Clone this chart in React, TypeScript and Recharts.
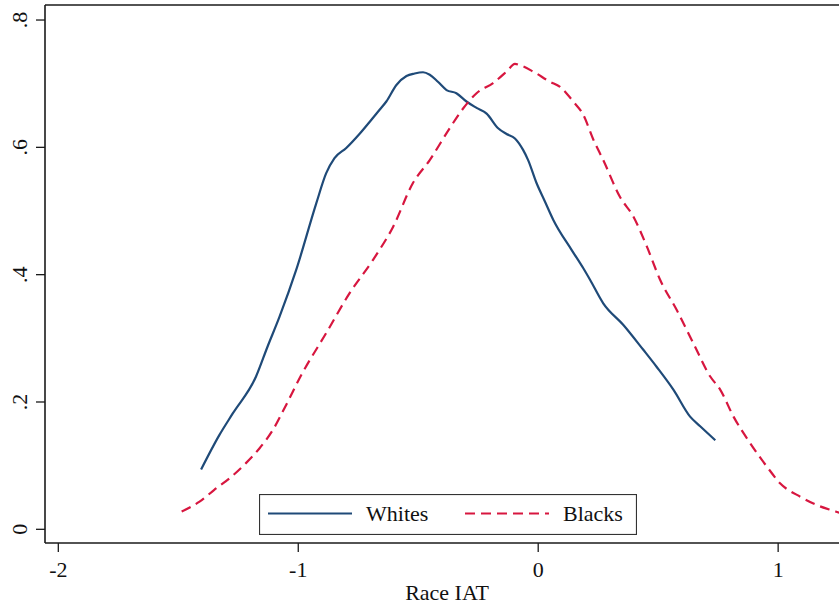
import { LineChart, Line, XAxis, YAxis, ReferenceLine } from 'recharts';

// density estimates
const whitesX = [
  -1.405, -1.329, -1.273, -1.176, -1.129, -1.078, -1.009, -0.925, -0.884, -0.849, -0.8, -0.745, -0.696,
  -0.661, -0.633, -0.591, -0.549, -0.515, -0.48, -0.452, -0.418, -0.382, -0.341, -0.299, -0.257, -0.215,
  -0.167, -0.132, -0.097, -0.063, -0.042, -0.007, 0.028, 0.063, 0.139, 0.188, 0.216, 0.271, 0.355, 0.438,
  0.494, 0.564, 0.633, 0.675, 0.738,
];
const whitesY = [
  0.094, 0.148, 0.182, 0.24, 0.286, 0.334, 0.407, 0.512, 0.559, 0.583, 0.599, 0.621, 0.643,
  0.659, 0.672, 0.698, 0.712, 0.716, 0.718, 0.714, 0.703, 0.69, 0.685, 0.672, 0.662, 0.653,
  0.63, 0.621, 0.614, 0.596, 0.58, 0.544, 0.515, 0.486, 0.439, 0.41, 0.392, 0.355, 0.321, 0.282,
  0.255, 0.219, 0.177, 0.162, 0.14,
];

const blacksX = [
  -1.486, -1.413, -1.35, -1.287, -1.218, -1.162, -1.106, -1.051, -0.988, -0.884, -0.786, -0.689, -0.605,
  -0.522, -0.452, -0.369, -0.313, -0.257, -0.188, -0.132, -0.097, -0.076, -0.021, 0.049, 0.091, 0.146,
  0.188, 0.23, 0.271, 0.341, 0.397, 0.453, 0.508, 0.578, 0.647, 0.717, 0.759, 0.814, 0.884, 0.954,
  1.009, 1.093, 1.162, 1.239, 1.3,
];
const blacksY = [
  0.028, 0.043, 0.062, 0.08, 0.104, 0.127, 0.156, 0.195, 0.242, 0.308, 0.371, 0.423, 0.475,
  0.544, 0.58, 0.63, 0.661, 0.685, 0.701, 0.719, 0.731, 0.729, 0.719, 0.703, 0.695, 0.672,
  0.651, 0.612, 0.58, 0.522, 0.491, 0.444, 0.392, 0.344, 0.292, 0.24, 0.219, 0.177, 0.135, 0.098,
  0.072, 0.051, 0.038, 0.028, 0.02,
];

const xTicks = [-2, -1, 0, 1];
const yTicks = [0, 0.2, 0.4, 0.6, 0.8];
const yTickLabels = ['0', '.2', '.4', '.6', '.8'];
const legendLabels = ['Whites', 'Blacks'];

const X_DOMAIN: [number, number] = [-2.0555, 1.2536];
const Y_DOMAIN: [number, number] = [-0.0215, 0.8236];

const whites = whitesX.map((x, i) => ({ x, y: whitesY[i] }));
const blacks = blacksX.map((x, i) => ({ x, y: blacksY[i] }));

const BLUE = '#1f4a78';
const RED = '#d7163f';
const AXIS = '#1a1a1a';
const DASH = '10 6';
const FONT = '"Liberation Serif", "Times New Roman", serif';

const YTick = (props: any) => {
  const { y, payload } = props;
  const idx = yTicks.indexOf(payload.value);
  return (
    <text
      transform={`translate(27, ${y}) rotate(-90)`}
      textAnchor="middle"
      fontFamily={FONT}
      fontSize={22}
      fill="#111"
    >
      {idx >= 0 ? yTickLabels[idx] : payload.value}
    </text>
  );
};

const XTick = (props: any) => {
  const { x, payload } = props;
  return (
    <text x={x} y={577} textAnchor="middle" fontFamily={FONT} fontSize={22} fill="#111">
      {payload.value}
    </text>
  );
};

// legend drawn as an overlay so the chart keeps its full plot height
const LegendBox = () => (
  <svg width={378} height={41} style={{ display: 'block' }}>
    <rect x={0.5} y={0.5} width={377} height={40} fill="#fff" stroke="#333" strokeWidth={1.2} />
    <line x1={9} y1={19.5} x2={93} y2={19.5} stroke={BLUE} strokeWidth={2.2} />
    <text x={107} y={27} fontFamily={FONT} fontSize={22} fill="#111">
      {legendLabels[0]}
    </text>
    <line x1={206} y1={19.5} x2={290} y2={19.5} stroke={RED} strokeWidth={2.2} strokeDasharray={DASH} />
    <text x={304} y={27} fontFamily={FONT} fontSize={22} fill="#111">
      {legendLabels[1]}
    </text>
  </svg>
);

export default function App() {
  return (
    <div style={{ position: 'absolute', left: 0, top: 0, width: 839, height: 606, background: '#fff' }}>
      <LineChart width={839} height={606} margin={{ top: 5, right: 0, bottom: 0, left: 0 }}>
        <XAxis
          type="number"
          dataKey="x"
          domain={X_DOMAIN}
          allowDataOverflow
          ticks={xTicks}
          tick={<XTick />}
          tickSize={9}
          height={63}
          axisLine={{ stroke: AXIS, strokeWidth: 1.6 }}
          tickLine={{ stroke: AXIS, strokeWidth: 1.3 }}
          label={{
            content: () => (
              <text x={447} y={600} textAnchor="middle" fontFamily={FONT} fontSize={22} fill="#111">
                Race IAT
              </text>
            ),
          }}
        />
        <YAxis
          type="number"
          dataKey="y"
          domain={Y_DOMAIN}
          allowDataOverflow
          ticks={yTicks}
          tick={<YTick />}
          tickSize={9}
          width={45}
          axisLine={{ stroke: AXIS, strokeWidth: 1.6 }}
          tickLine={{ stroke: AXIS, strokeWidth: 1.3 }}
        />
        <ReferenceLine y={Y_DOMAIN[1]} stroke={AXIS} strokeWidth={1.6} />
        <Line
          data={whites}
          dataKey="y"
          type="monotone"
          stroke={BLUE}
          strokeWidth={2.2}
          dot={false}
          isAnimationActive={false}
        />
        <Line
          data={blacks}
          dataKey="y"
          type="monotone"
          stroke={RED}
          strokeWidth={2.2}
          strokeDasharray={DASH}
          dot={false}
          isAnimationActive={false}
        />
      </LineChart>
      <div style={{ position: 'absolute', left: 259, top: 494 }}>
        <LegendBox />
      </div>
    </div>
  );
}
